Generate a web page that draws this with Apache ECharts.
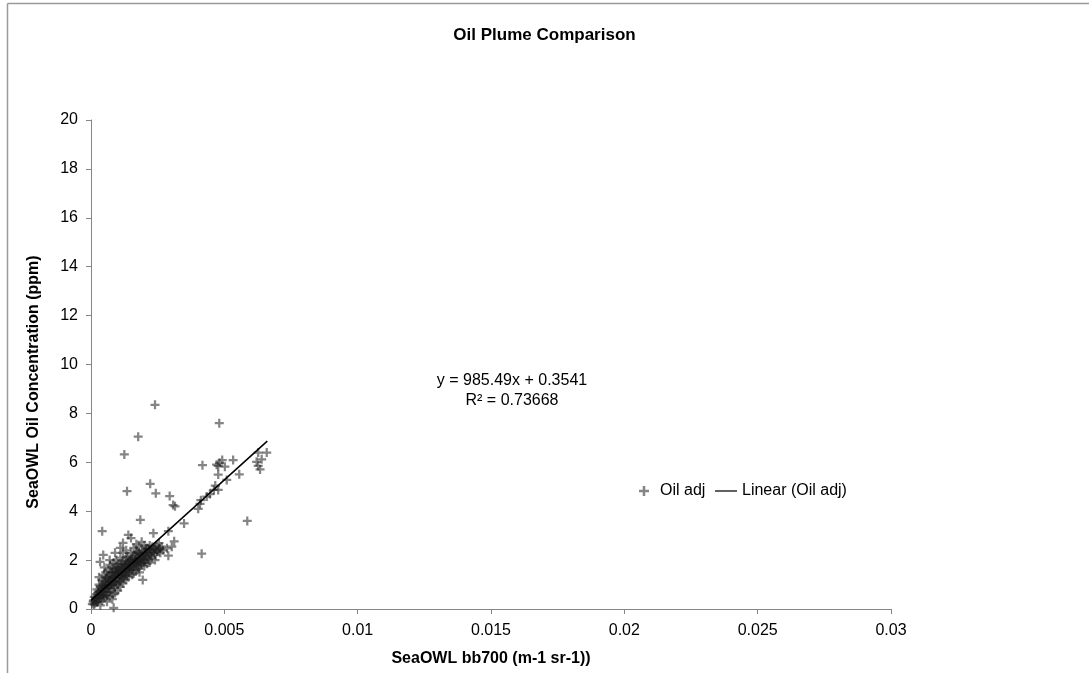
<!DOCTYPE html>
<html>
<head>
<meta charset="utf-8">
<style>
  html, body { margin: 0; padding: 0; background: #fff; }
  #chart { width: 1089px; height: 673px; }
</style>
<script src="https://cdn.jsdelivr.net/npm/echarts@6/dist/echarts.min.js"></script>
</head>
<body>
<div id="chart"></div>
<script>
// points: [bb700, oil ppm]
var oilCluster = [
  [0.00005,0.2],[0.0001,0.35],[0.00012,0.5],[0.00015,0.25],[0.0002,0.6],[0.0002,0.4],[0.00022,0.8],
  [0.00025,0.3],[0.00028,0.55],[0.0003,0.7],[0.0003,1.0],[0.00032,0.45],[0.00035,0.9],[0.00035,0.15],
  [0.00038,0.6],[0.0004,1.2],[0.0004,0.8],[0.00042,0.35],[0.00045,1.0],[0.00045,0.6],[0.00048,1.4],
  [0.0005,0.9],[0.0005,0.45],[0.00052,1.15],[0.00055,0.7],[0.00055,1.5],[0.00058,1.0],[0.0006,0.55],
  [0.0006,1.3],[0.00062,0.85],[0.00065,1.1],[0.00065,1.6],[0.00068,0.7],[0.0007,1.35],[0.0007,0.95],
  [0.00072,1.8],[0.00075,1.2],[0.00075,0.8],[0.00078,1.5],[0.0008,1.0],[0.0008,1.7],[0.00082,0.6],
  [0.00085,1.3],[0.00085,1.9],[0.00088,1.1],[0.0009,1.5],[0.0009,0.85],[0.00092,1.25],[0.00095,1.7],
  [0.00095,2.0],[0.00098,1.4],[0.001,1.0],[0.001,1.6],[0.00102,1.85],[0.00105,1.3],[0.00108,1.55],
  [0.0011,2.1],[0.0011,1.15],[0.00112,1.75],[0.00115,1.4],[0.00118,1.95],[0.0012,1.6],[0.0012,2.3],
  [0.00122,1.25],[0.00125,1.8],[0.00128,1.5],[0.0013,2.0],[0.0013,1.65],[0.00132,2.4],[0.00135,1.35],
  [0.00138,1.9],[0.0014,1.7],[0.0014,2.15],[0.00142,1.5],[0.00145,2.0],[0.00148,1.8],[0.0015,1.6],
  [0.0015,2.3],[0.00152,1.95],[0.00155,1.4],[0.00158,2.1],[0.0016,1.75],[0.0016,2.5],[0.00162,1.9],
  [0.00165,2.2],[0.00168,1.6],[0.0017,2.0],[0.0017,1.85],[0.00172,2.35],[0.00175,1.7],[0.00178,2.1],
  [0.0018,1.95],[0.0018,2.55],[0.00182,1.5],[0.00185,2.25],[0.00188,2.0],[0.0019,1.8],[0.0019,2.4],
  [0.00195,2.1],[0.00198,1.9],[0.002,2.3],[0.002,2.6],[0.00202,2.0],[0.00205,2.45],[0.00208,2.15],
  [0.0021,1.85],[0.0021,2.5],[0.00215,2.3],[0.00218,2.05],[0.0022,2.6],[0.00222,2.2],[0.00225,2.4],
  [0.00228,2.1],[0.0023,2.55],[0.00235,2.3],[0.0024,2.45],[0.00242,2.2],[0.00245,2.6],[0.0025,2.4],
  [0.00255,2.5],[0.0026,2.3],[0.00265,2.55],[0.0027,2.4],
  [0.0006,0.3],[0.0007,0.5],[0.0008,0.4],[0.0009,0.65],[0.001,0.75],[0.0011,0.9],[0.0012,1.05],
  [0.0013,1.2],[0.0014,1.3],[0.0016,1.45],[0.0018,1.65],[0.002,1.75],[0.0022,1.9],[0.0024,2.0],
  [0.0003,1.3],[0.0005,1.7],[0.0007,2.0],[0.0009,2.3],[0.0011,2.5],[0.0012,2.7],[0.0015,2.9],
  [0.0017,2.65],[0.0019,2.75],
  [0.00008,0.3],[0.00012,0.18],[0.00018,0.45],[0.00022,0.28],[0.00027,0.7],[0.00028,0.4],[0.00033,0.6],
  [0.00037,0.75],[0.0004,0.5],[0.00043,0.95],[0.00046,0.7],[0.00049,0.55],[0.00051,1.1],[0.00054,0.85],
  [0.00057,1.25],[0.00059,0.7],[0.00063,1.0],[0.00066,1.25],[0.00067,0.9],[0.00071,1.1],[0.00073,1.5],
  [0.00076,1.0],[0.00079,1.3],[0.00081,1.15],[0.00083,1.5],[0.00086,1.0],[0.00089,1.35],[0.00091,1.65],
  [0.00093,1.1],[0.00096,1.5],[0.00099,1.2],[0.00101,1.45],[0.00104,1.7],[0.00106,1.1],[0.00109,1.4],
  [0.00111,1.6],[0.00113,1.3],[0.00116,1.85],[0.00119,1.5],[0.00121,1.4],[0.00124,1.7],[0.00127,1.35],
  [0.00129,1.8],[0.00131,1.55],[0.00134,2.1],[0.00137,1.6],[0.00139,1.85],[0.00143,1.65],[0.00146,1.9],
  [0.00149,1.7],[0.00153,2.05],[0.00156,1.85],[0.00159,1.6],[0.00163,2.05],[0.00166,1.9],[0.00169,2.3],
  [0.00173,1.95],[0.00176,1.8],[0.00179,2.3],[0.00183,2.05],[0.00187,1.9],[0.00192,2.2],[0.00196,2.0],
  [0.00203,2.2],[0.00207,2.35],[0.00212,2.1],[0.00217,2.45],[0.00224,2.3],[0.00232,2.4],[0.00238,2.5],
  [0.00248,2.35],[0.00258,2.45]
];

var oilOutliers = [
  [0.0024,8.35],[0.00481,7.6],[0.00177,7.05],[0.00125,6.32],[0.00135,4.82],[0.00222,5.12],
  [0.00243,4.73],[0.00295,4.62],[0.00308,4.25],[0.00315,4.2],[0.00402,4.1],[0.00412,4.45],
  [0.00418,5.88],[0.00471,5.9],[0.00477,5.85],[0.00482,5.98],[0.00492,6.09],[0.00533,6.09],
  [0.00502,5.82],[0.00556,5.51],[0.00509,5.28],[0.00477,5.5],[0.00466,5.05],[0.00461,4.87],
  [0.00477,4.87],[0.00446,4.7],[0.00434,4.6],[0.00409,4.3],[0.00627,6.4],[0.00659,6.4],
  [0.00621,6.02],[0.0064,6.12],[0.00634,5.71],[0.00627,5.85],[0.00586,3.6],[0.00415,2.26],
  [0.00185,3.65],[0.00042,3.18],[0.00349,3.5],[0.0029,3.18],[0.00312,2.77],[0.00285,2.48],
  [0.0029,2.18],[0.00234,3.1],[0.0014,3.03],[0.00194,1.19],[0.00085,0.05],[0.00046,2.21],
  [0.00034,1.93],[0.00255,2.69],[0.00303,2.55]
];

// trendline from the Excel equation
var slope = 985.49
var intercept = 0.3541
var trendX = [0, 0.00661]

var xTicks = [0, 0.005, 0.01, 0.015, 0.02, 0.025, 0.03]
var yTicks = [0, 2, 4, 6, 8, 10, 12, 14, 16, 18, 20]

var oilAdj = oilCluster.concat(oilOutliers)
var trendData = trendX.map(function (x) { return [x, slope * x + intercept] })

var plusPath = 'path://M3,0H5V3H8V5H5V8H3V5H0V3H3Z'
var font = 'Liberation Sans'

var myChart = echarts.init(document.getElementById('chart'))

var option = {
  backgroundColor: '#fff',
  animation: false,
  textStyle: { fontFamily: font },
  title: {
    text: 'Oil Plume Comparison',
    left: 'center',
    top: 22,
    textStyle: { fontFamily: font, fontSize: 17, fontWeight: 'bold', color: '#000' }
  },
  grid: { left: 91, top: 120, width: 800, height: 489, containLabel: false },
  legend: [
    {
      data: ['Oil adj'],
      left: 634, top: 478,
      itemWidth: 14, itemHeight: 10,
      textStyle: { fontFamily: font, fontSize: 16, color: '#000', padding: [0, 0, 0, 4] }
    },
    {
      data: [{ name: 'Linear (Oil adj)', icon: 'path://M0,0H23V1.3H0Z', itemStyle: { color: '#000' } }],
      left: 710, top: 478,
      itemWidth: 22, itemHeight: 10,
      textStyle: { fontFamily: font, fontSize: 16, color: '#000' }
    }
  ],
  xAxis: {
    type: 'value',
    min: xTicks[0], max: xTicks[xTicks.length - 1], interval: 0.005,
    name: 'SeaOWL bb700 (m-1 sr-1))',
    nameLocation: 'middle', nameGap: 42,
    nameTextStyle: { fontFamily: font, fontSize: 16, fontWeight: 'bold', color: '#000' },
    axisLine: { lineStyle: { color: '#868686' } },
    axisTick: { show: true, length: 5, lineStyle: { color: '#868686' } },
    axisLabel: { fontSize: 16, color: '#000', margin: 14,
      formatter: function (v) { return String(+v.toFixed(3)) } },
    splitLine: { show: false }
  },
  yAxis: {
    type: 'value',
    min: yTicks[0], max: yTicks[yTicks.length - 1], interval: 2,
    axisLine: { show: true, lineStyle: { color: '#868686' } },
    axisTick: { show: true, length: 5, lineStyle: { color: '#868686' } },
    axisLabel: { fontSize: 16, color: '#000', margin: 13 },
    splitLine: { show: false }
  },
  series: [
    {
      name: 'Oil adj',
      type: 'scatter',
      symbol: plusPath,
      symbolSize: 9,
      itemStyle: { color: 'rgba(30,30,30,0.68)' },
      data: oilAdj
    },
    {
      name: 'Linear (Oil adj)',
      type: 'line',
      symbol: 'none',
      itemStyle: { color: '#000' },
      lineStyle: { color: '#000', width: 1.5 },
      data: trendData,
      z: 5
    }
  ],
  graphic: [
    { type: 'line', shape: { x1: 7.5, y1: 3.5, x2: 1089, y2: 3.5 }, style: { stroke: '#9a9a9a', lineWidth: 1.5 } },
    { type: 'line', shape: { x1: 7.5, y1: 3.5, x2: 7.5, y2: 673 }, style: { stroke: '#9a9a9a', lineWidth: 1.5 } },
    {
      type: 'text', x: 512, y: 371,
      style: {
        text: 'y = 985.49x + 0.3541\nR² = 0.73668',
        font: '16px "Liberation Sans"', fill: '#000', lineHeight: 20, align: 'center'
      }
    },
    {
      type: 'text', x: 34, y: 382, rotation: Math.PI / 2,
      style: {
        text: 'SeaOWL Oil Concentration (ppm)',
        font: 'bold 16px "Liberation Sans"', fill: '#000', align: 'center', verticalAlign: 'middle'
      }
    }
  ]
}

myChart.setOption(option, true)
</script>
</body>
</html>
